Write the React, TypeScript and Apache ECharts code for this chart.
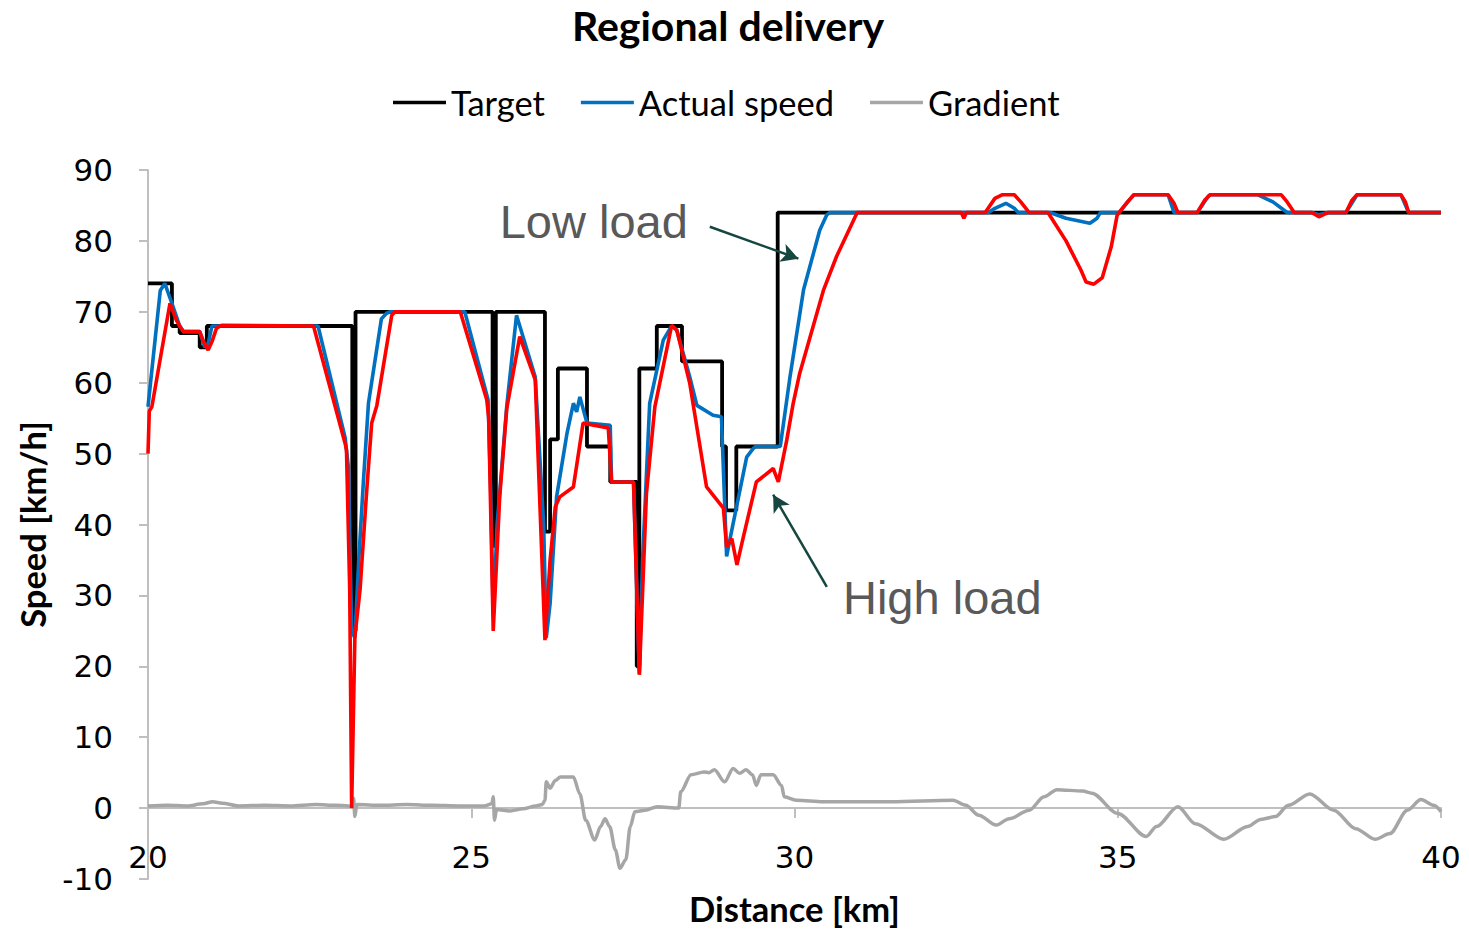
import React, { useEffect, useRef } from "react";
import * as echarts from "echarts";

// Distance [km] / value pairs
const targetSpeed: [number, number][] = [
  [20.0, 74], [20.37, 74], [20.37, 68], [20.49, 68], [20.49, 67], [20.8, 67], [20.8, 65],
  [20.91, 65], [20.91, 68], [23.16, 68], [23.16, 25], [23.21, 25], [23.21, 70], [25.33, 70],
  [25.33, 37], [25.38, 37], [25.38, 70], [26.14, 70], [26.14, 39], [26.22, 39], [26.22, 52],
  [26.34, 52], [26.34, 62], [26.79, 62], [26.79, 51], [27.15, 51], [27.15, 46], [27.56, 46],
  [27.56, 20], [27.6, 20], [27.6, 62], [27.87, 62], [27.87, 68], [28.26, 68], [28.26, 63],
  [28.88, 63], [28.88, 51], [28.94, 51], [28.94, 42], [29.1, 42], [29.1, 51], [29.74, 51],
  [29.74, 84], [40.0, 84],
];

const actualLowLoad: [number, number][] = [
  [20.0, 56.6], [20.19, 73], [20.26, 74], [20.37, 71.2], [20.49, 68], [20.55, 67.2], [20.8, 67.2],
  [20.88, 65], [20.93, 65.5], [20.99, 68], [22.63, 68], [23.05, 52.2], [23.1, 48], [23.15, 25],
  [23.2, 24], [23.26, 35], [23.33, 45.8], [23.41, 57.1], [23.61, 69], [23.69, 69.8], [23.75, 70],
  [24.9, 70], [25.26, 57.6], [25.3, 45], [25.34, 27], [25.4, 40], [25.55, 56.8], [25.7, 69.5],
  [25.99, 60.8], [26.12, 40], [26.16, 24], [26.22, 28.9], [26.32, 43.9], [26.48, 52.8],
  [26.58, 57.1], [26.63, 55.9], [26.68, 58], [26.79, 54.3], [27.15, 54], [27.17, 46], [27.51, 46],
  [27.6, 19], [27.65, 35], [27.76, 57.1], [27.97, 66], [28.1, 68], [28.18, 67.4], [28.38, 60.8],
  [28.49, 56.8], [28.74, 55.4], [28.87, 55.2], [28.95, 35.5], [29.03, 39.2], [29.26, 49.5],
  [29.36, 50.7], [29.4, 51], [29.78, 51], [29.93, 60.8], [30.06, 68.4], [30.14, 73.1],
  [30.39, 81.5], [30.5, 83.7], [30.55, 84], [33.0, 84], [33.1, 84.6], [33.27, 85.3], [33.4, 84.6],
  [33.46, 84], [33.95, 84], [34.2, 83.2], [34.57, 82.5], [34.68, 83.2], [34.73, 84], [35.02, 84],
  [35.2, 86], [35.25, 86.5], [35.78, 86.5], [35.87, 84], [36.23, 84], [36.4, 86.3], [36.43, 86.5],
  [37.17, 86.5], [37.4, 85.5], [37.62, 84], [38.0, 84], [38.11, 83.7], [38.25, 84], [38.53, 84],
  [38.68, 86.2], [38.7, 86.5], [39.38, 86.5], [39.5, 84], [40.0, 84],
];

const actualHighLoad: [number, number][] = [
  [20.0, 50], [20.02, 56], [20.06, 56.6], [20.34, 71.2], [20.44, 68.8], [20.49, 68], [20.55, 67.2],
  [20.8, 67.2], [20.86, 65.8], [20.93, 64.6], [20.99, 65.8], [21.06, 67.7], [21.14, 68.1],
  [22.56, 68], [23.05, 51.4], [23.07, 50.5], [23.12, 30.8], [23.15, 0], [23.2, 24.2],
  [23.28, 30.8], [23.38, 44.4], [23.46, 54.3], [23.54, 56.8], [23.77, 69.5], [23.82, 70],
  [24.83, 70], [25.24, 57.6], [25.27, 55], [25.34, 25], [25.44, 43.9], [25.55, 56.4],
  [25.75, 66.5], [25.99, 60.4], [26.14, 23.7], [26.22, 35], [26.3, 42.5], [26.37, 43.9],
  [26.58, 45.3], [26.73, 54.3], [27.12, 53.6], [27.17, 46], [27.51, 46], [27.6, 18.8],
  [27.71, 44.4], [27.84, 56.6], [28.1, 68.1], [28.18, 67.4], [28.38, 59.9], [28.64, 45.3],
  [28.9, 42.3], [28.95, 36.8], [29.03, 38], [29.11, 34.3], [29.21, 38.3], [29.41, 46],
  [29.67, 47.9], [29.75, 46], [29.88, 51.9], [29.98, 57.1], [30.08, 61.3], [30.45, 73.1],
  [30.65, 77.8], [30.97, 84], [32.58, 84], [32.62, 83.2], [32.66, 84], [32.95, 84], [33.1, 86],
  [33.21, 86.5], [33.4, 86.5], [33.5, 85.5], [33.63, 84], [33.92, 84], [34.2, 80], [34.43, 75.9],
  [34.51, 74.2], [34.63, 73.9], [34.76, 74.8], [34.9, 79.2], [34.99, 83.6], [35.02, 84],
  [35.15, 85.5], [35.25, 86.5], [35.78, 86.5], [35.87, 85.3], [35.93, 84], [36.23, 84],
  [36.35, 85.8], [36.43, 86.5], [37.53, 86.5], [37.62, 85.5], [37.73, 84], [38.0, 84],
  [38.11, 83.4], [38.25, 84], [38.53, 84], [38.62, 85.7], [38.7, 86.5], [39.38, 86.5],
  [39.45, 85.5], [39.5, 84], [40.0, 84],
];

const gradient: [number, number][] = [
  [20.0, 0.3], [20.3, 0.4], [20.6, 0.3], [20.85, 0.6], [21.0, 0.9], [21.15, 0.7], [21.4, 0.3],
  [21.8, 0.4], [22.2, 0.3], [22.6, 0.5], [22.9, 0.4], [23.1, 0.3], [23.16, 0.2], [23.18, 1.4],
  [23.2, -1.2], [23.23, 0.5], [23.6, 0.4], [24.0, 0.5], [24.4, 0.4], [24.8, 0.3], [25.2, 0.3],
  [25.32, 0.6], [25.34, 1.6], [25.36, -1.7], [25.39, -0.2], [25.6, -0.4], [25.8, -0.1],
  [26.0, 0.3], [26.1, 0.5], [26.14, 1.1], [26.16, 3.7], [26.22, 2.8], [26.3, 3.9], [26.38, 4.4],
  [26.58, 4.4], [26.68, 2.0], [26.77, -1.7], [26.91, -4.5], [27.0, -2.6], [27.07, -1.5],
  [27.14, -2.6], [27.23, -5.9], [27.3, -8.5], [27.39, -7.3], [27.46, -2.6], [27.53, -0.5],
  [27.69, -0.3], [27.88, 0.2], [28.21, 0.0], [28.24, 2.3], [28.4, 4.7], [28.6, 5.1], [28.68, 5.0],
  [28.76, 5.4], [28.92, 3.7], [29.05, 5.6], [29.15, 4.9], [29.25, 5.4], [29.35, 4.7], [29.41, 3.2],
  [29.48, 4.7], [29.67, 4.7], [29.8, 3.2], [29.84, 1.6], [30.04, 1.1], [30.44, 0.9], [31.5, 0.9],
  [32.45, 1.1], [32.65, 0.4], [32.85, -1.0], [33.12, -2.4], [33.32, -1.5], [33.63, -0.3],
  [33.86, 1.6], [34.06, 2.6], [34.46, 2.4], [34.6, 2.1], [35.0, -0.75], [35.44, -4.0],
  [35.6, -2.6], [35.93, 0.2], [36.2, -2.2], [36.64, -4.4], [37.01, -2.6], [37.21, -1.6],
  [37.44, -1.2], [37.64, 0.4], [37.97, 2.0], [38.34, -0.3], [38.68, -2.9], [38.98, -4.4],
  [39.21, -3.6], [39.48, -0.3], [39.69, 1.2], [39.89, 0.4], [40.0, -0.5],
];

const legendItems = ["Target", "Actual speed", "Gradient"];

// Callouts: [label, text anchor (left-middle), arrow tail, arrow tip] in data units
const callouts: { text: string; at: [number, number]; from: [number, number]; to: [number, number] }[] = [
  { text: "Low load", at: [25.44, 82.7], from: [28.69, 82.0], to: [30.06, 77.5] },
  { text: "High load", at: [30.75, 29.7], from: [30.5, 31.2], to: [29.67, 44.2] },
];

const ARROW = "#154640";

export default function App() {
  const ref = useRef<HTMLDivElement>(null);

  useEffect(() => {
    document.body.style.margin = "0";
    const chart = echarts.init(ref.current!, undefined, { renderer: "svg" });
    const axisGray = "#bfbfbf";
    const nameFont = { fontFamily: "Lato", fontWeight: "bold" as const, fontSize: 34.5, color: "#000" };
    const tickFont = { fontFamily: "DejaVu Sans", fontSize: 31, color: "#000" };

    chart.setOption({
      animation: false,
      backgroundColor: "#fff",
      title: {
        text: "Regional delivery",
        left: 723,
        textAlign: "center",
        top: 0,
        textStyle: { fontFamily: "Lato", fontWeight: "bold", fontSize: 41, color: "#000" },
      },
      legend: {
        data: legendItems,
        left: 388,
        top: 80,
        icon: "rect",
        itemWidth: 53,
        itemHeight: 3.5,
        itemGap: 36,
        textStyle: { fontFamily: "Lato", fontSize: 34.5, color: "#000" },
      },
      grid: { left: 148, right: 28, top: 170, bottom: 50, containLabel: false, outerBoundsMode: "none" },
      xAxis: {
        type: "value",
        min: 20,
        max: 40,
        interval: 5,
        name: "Distance [km]",
        nameLocation: "middle",
        nameGap: 12,
        nameTextStyle: nameFont,
        axisLine: { onZero: true, lineStyle: { color: axisGray, width: 2 } },
        axisTick: { show: true, length: 10, lineStyle: { color: axisGray, width: 2 } },
        axisLabel: { ...tickFont, margin: -38 },
        splitLine: { show: false },
      },
      yAxis: {
        type: "value",
        min: -10,
        max: 90,
        interval: 10,
        name: "Speed [km/h]",
        nameLocation: "middle",
        nameRotate: 90,
        nameGap: 98,
        nameTextStyle: nameFont,
        axisLine: { show: true, lineStyle: { color: axisGray, width: 2 } },
        axisTick: { show: true, length: 9, lineStyle: { color: axisGray, width: 2 } },
        axisLabel: { ...tickFont, margin: 35 },
        splitLine: { show: false },
      },
      series: [
        {
          name: "Target",
          type: "line",
          data: targetSpeed,
          symbol: "none",
          lineStyle: { color: "#000", width: 3.8 },
          itemStyle: { color: "#000" },
          silent: true,
        },
        {
          name: "Gradient",
          type: "line",
          data: gradient,
          symbol: "none",
          smooth: 0.3,
          smoothMonotone: "x",
          lineStyle: { color: "#a6a6a6", width: 3.5 },
          itemStyle: { color: "#a6a6a6" },
          silent: true,
        },
        {
          name: "Actual speed",
          type: "line",
          data: actualLowLoad,
          symbol: "none",
          lineStyle: { color: "#0070c0", width: 3.6 },
          itemStyle: { color: "#0070c0" },
          silent: true,
        },
        {
          name: "Actual speed (high load)",
          type: "line",
          data: actualHighLoad,
          symbol: "none",
          lineStyle: { color: "#ff0000", width: 3.6 },
          itemStyle: { color: "#ff0000" },
          silent: true,
          markLine: {
            silent: true,
            symbol: ["none", "arrow"],
            symbolSize: [14, 17],
            label: { show: false },
            lineStyle: { color: ARROW, width: 2.5, type: "solid" },
            emphasis: { disabled: true },
            data: callouts.map((c) => [{ coord: c.from }, { coord: c.to }]),
          },
        },
      ],
    });

    chart.setOption({
      graphic: callouts.map((c) => {
        const [px, py] = chart.convertToPixel({ gridIndex: 0 }, c.at) as number[];
        return {
          type: "text",
          x: px,
          y: py,
          silent: true,
          style: {
            text: c.text,
            fill: "#595959",
            font: '47px "Liberation Sans", Arial, sans-serif',
            textAlign: "left",
            textVerticalAlign: "middle",
          },
        };
      }),
    });

    return () => chart.dispose();
  }, []);

  return <div ref={ref} style={{ width: 1469, height: 929 }} />;
}
